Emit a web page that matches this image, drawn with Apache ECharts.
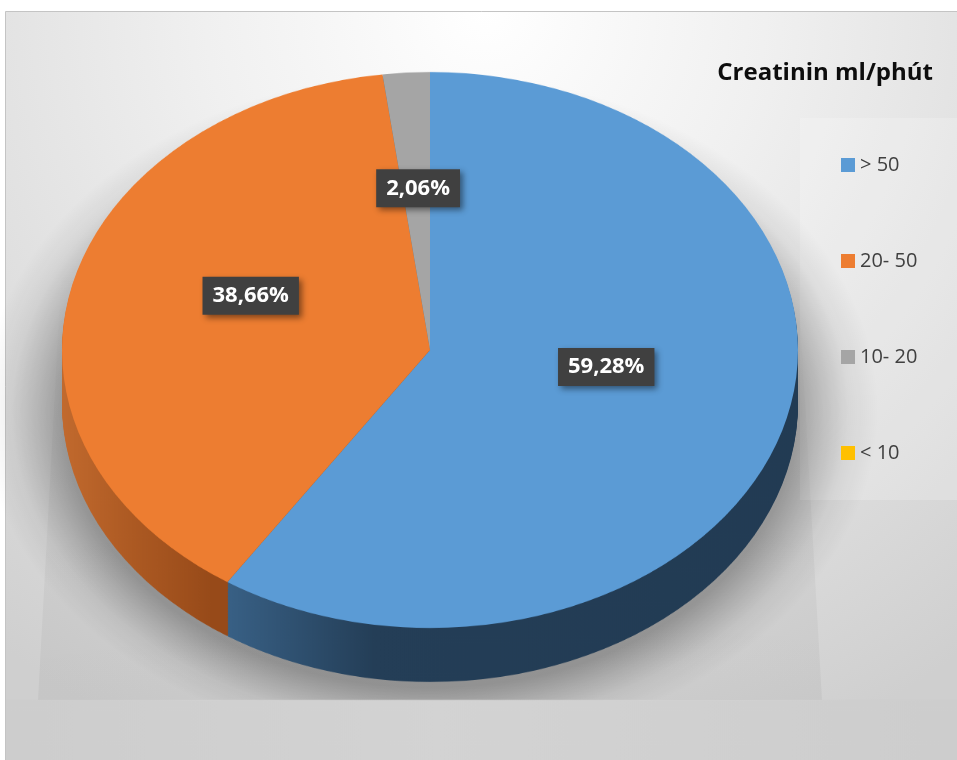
<!DOCTYPE html>
<html>
<head>
<meta charset="utf-8">
<script src="https://cdn.jsdelivr.net/npm/echarts@6/dist/echarts.min.js"></script>
<style>
  html, body { margin: 0; padding: 0; background: #ffffff; }
  #wrap { position: relative; width: 957px; height: 760px; overflow: hidden; }
  #bg, #over { position: absolute; left: 0; top: 0; width: 957px; height: 760px; }
  #pie { position: absolute; left: 0; top: 0; width: 957px; transform-origin: 0 0; }
</style>
</head>
<body>
<div id="wrap">
  <div id="bg"></div>
  <div id="pie"></div>
  <div id="over"></div>
</div>
<script>
// ---- data ----
const titleText = 'Creatinin ml/phút';
const categories = ['> 50', '20- 50', '10- 20', '< 10'];
const values = [59.28, 38.66, 2.06, 0];

// ---- styles ----
const topColors = ['#5b9bd5', '#ed7d31', '#a5a5a5', '#ffc000'];
function lin(stops) {
  return { type: 'linear', x: 60, y: 0, x2: 960, y2: 0, global: true,
    colorStops: stops.map(s => ({ offset: s[0], color: s[1] })) };
}
const sideColors = [
  lin([[0, '#3d668e'], [0.172, '#3a6389'], [0.35, '#243e57'], [1, '#213a52']]),
  lin([[0, '#c26a2e'], [0.078, '#ad5a23'], [0.17, '#974a19'], [1, '#974a19']]),
  '#6f6f6f',
  '#b08600'
];
const FONT = 'Open Sans';

// ---- geometry of the tilted pie ----
const CX = 430, RX = 368, RY = 278, CY = 350, DEPTH = 54, FLOOR_Y = 700;
const SCALE = RY / RX;
const N_LAYERS = 36;
const cyU = CY / SCALE;
const depthU = DEPTH / SCALE;
const stepU = depthU / N_LAYERS;

document.getElementById('pie').style.height = Math.ceil(760 / SCALE) + 'px';
document.getElementById('pie').style.transform = 'scaleY(' + SCALE + ')';

// ---- background chart ----
const bg = echarts.init(document.getElementById('bg'), null, { renderer: 'canvas' });
bg.setOption({
  animation: false,
  graphic: [
    { type: 'rect', shape: { x: 5.5, y: 11.5, width: 960, height: 760 }, silent: true,
      style: { fill: { type: 'radial', x: 0.5, y: 0.0, r: 1.05,
        colorStops: [{ offset: 0, color: '#ffffff' }, { offset: 0.35, color: '#f0f0f0' }, { offset: 1, color: '#cfcfcf' }] },
        stroke: '#c4c4c4', lineWidth: 1 } },
    { type: 'polygon', silent: true,
      shape: { points: [[62, 262], [797, 262], [822, FLOOR_Y], [38, FLOOR_Y]] },
      style: { fill: { type: 'linear', x: 0, y: 0, x2: 0, y2: 1,
        colorStops: [{ offset: 0, color: 'rgba(0,0,0,0)' }, { offset: 0.5, color: 'rgba(0,0,0,0.03)' }, { offset: 1, color: 'rgba(0,0,0,0.045)' }] } } },
    { type: 'rect', silent: true, shape: { x: 800, y: 118, width: 160, height: 382 },
      style: { fill: 'rgba(255,255,255,0.2)' } }
  ]
});

// ---- pie chart (drawn round, squeezed into an ellipse) ----
const pie = echarts.init(document.getElementById('pie'), null, { renderer: 'canvas' });
function pieSeries(offset, colors) {
  return {
    type: 'pie', silent: true, animation: false, z: 5,
    center: [CX, cyU + offset], radius: RX,
    startAngle: 90, clockwise: true, minAngle: 0,
    label: { show: false }, labelLine: { show: false },
    emphasis: { disabled: true },
    itemStyle: { borderWidth: 0 },
    data: categories.map((c, i) => ({ name: c, value: values[i], itemStyle: { color: colors[i] } }))
  };
}
const pieSeriesList = [];
for (let k = N_LAYERS; k >= 1; k--) pieSeriesList.push(pieSeries(k * stepU, sideColors));
pieSeriesList.push(pieSeries(0, topColors));

const SH_R = RX + 80, SH_CY = cyU + depthU + 8;
pie.setOption({
  animation: false,
  graphic: [
    { type: 'circle', silent: true, z: 0,
      shape: { cx: CX, cy: SH_CY, r: SH_R },
      style: { fill: { type: 'radial', x: CX, y: SH_CY, r: SH_R, global: true,
        colorStops: [
          { offset: 0, color: 'rgba(0,0,0,0.3)' },
          { offset: RX / SH_R, color: 'rgba(0,0,0,0.29)' },
          { offset: (RX + 25) / SH_R, color: 'rgba(0,0,0,0.17)' },
          { offset: (RX + 50) / SH_R, color: 'rgba(0,0,0,0.06)' },
          { offset: 1, color: 'rgba(0,0,0,0)' }] } } },
    { type: 'rect', silent: true, z: 1,
      shape: { x: 6, y: FLOOR_Y / SCALE, width: 960, height: 200 },
      style: { fill: { type: 'linear', x: 0, y: 0, x2: 1, y2: 0,
        colorStops: [{ offset: 0, color: '#cdcdcd' }, { offset: 0.45, color: '#d3d3d3' }, { offset: 1, color: '#cdcdcd' }] } } }
  ],
  series: pieSeriesList
});

// ---- overlay: title, legend, data labels ----
const total = values.reduce((a, b) => a + b, 0);
const midAngles = [];
(function () { let acc = 0; values.forEach(v => { midAngles.push((acc + v / 2) / total * Math.PI * 2); acc += v; }); })();
const LABEL_CY = 327, LABEL_K = 0.5;

const over = echarts.init(document.getElementById('over'), null, { renderer: 'canvas' });
over.setOption({
  animation: false,
  title: {
    text: titleText, right: 24, top: 57, padding: 0,
    textStyle: { fontFamily: FONT, fontWeight: 'bold', fontSize: 24, color: '#0d0d0d', lineHeight: 32 }
  },
  legend: {
    orient: 'vertical', left: 841, top: 155, padding: 0,
    itemWidth: 14, itemHeight: 14, itemGap: 76, icon: 'rect', selectedMode: false,
    textStyle: { fontFamily: FONT, fontSize: 20, color: '#404040', lineHeight: 20 },
    data: categories.map((c, i) => ({ name: c, itemStyle: { color: topColors[i] } }))
  },
  series: [{
    type: 'pie', silent: true, center: [CX, CY], radius: 0,
    startAngle: 90, clockwise: true,
    labelLine: { show: false },
    label: {
      show: true, position: 'inside',
      formatter: p => p.value.toFixed(2).replace('.', ',') + '%',
      color: '#ffffff', fontFamily: FONT, fontWeight: 'bold', fontSize: 22,
      backgroundColor: '#404040', padding: [9, 10, 7, 10],
      shadowColor: 'rgba(0,0,0,0.45)', shadowBlur: 6, shadowOffsetX: 3, shadowOffsetY: 3
    },
    labelLayout: p => {
      const a = midAngles[p.dataIndex];
      return { x: CX + LABEL_K * RX * Math.sin(a), y: LABEL_CY - LABEL_K * RY * Math.cos(a),
               align: 'center', verticalAlign: 'middle' };
    },
    data: categories.map((c, i) => ({ name: c, value: values[i],
      itemStyle: { color: topColors[i] }, label: { show: values[i] > 0 } }))
  }]
});
</script>
</body>
</html>
